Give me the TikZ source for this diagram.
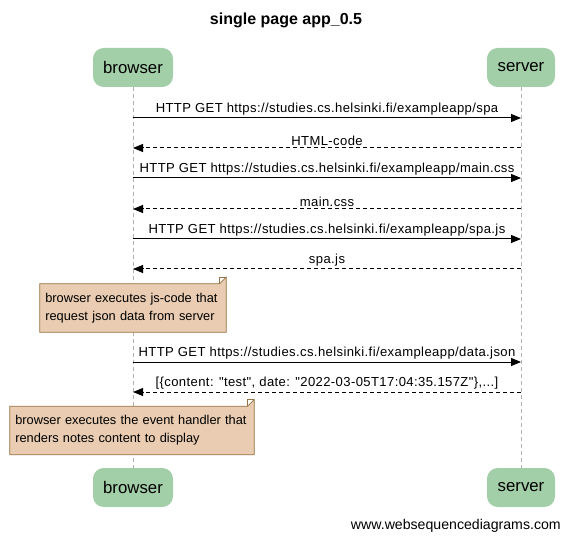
\documentclass[tikz,border=0pt]{standalone}
\usepackage{fontspec}
\setmainfont{Liberation Sans}[Ligatures=TeXOff]
\usetikzlibrary{arrows.meta}

\definecolor{actorgreen}{RGB}{163,207,168}
\definecolor{notefill}{RGB}{233,204,177}
\definecolor{notedraw}{RGB}{153,115,69}

\tikzset{
  actor/.style={fill=actorgreen, rounded corners=8pt, minimum width=#1, minimum height=29.25pt, font=\fontsize{12.6}{14}\selectfont, inner sep=0pt},
  life/.style={draw=gray!60, dash pattern=on 3pt off 2.25pt, line width=0.6pt},
  req/.style={line width=0.75pt, -{Triangle[length=7.5pt,width=6pt]}},
  resp/.style={line width=0.75pt, dash pattern=on 3pt off 2.25pt, -{Triangle[length=7.5pt,width=6pt]}},
  msg/.style={font=\fontsize{9.8}{11}\selectfont\addfontfeature{LetterSpace=3}, inner sep=1.5pt, above},
  notetext/.style={text width=#1, align=left, minimum height=36pt, inner xsep=4pt, inner ysep=0pt, font=\fontsize{9.6}{13.5}\selectfont},
  notebox/.style={fill=notefill, draw=notedraw, line width=0.6pt}
}

\begin{document}
\begin{tikzpicture}[x=0.75pt,y=0.75pt,yscale=-1,xscale=1]
\useasboundingbox (0,0) rectangle (570,541);

\node[font=\bfseries\fontsize{12}{14}\selectfont] (title) at (286,20) {single page app\_0.5};

% actors
\node[actor=60pt] (browsertop) at (133,67.5) {browser};
\node[actor=51pt] (servertop) at (521,67.5) {server};
\node[actor=60pt] (browserbot) at (133,487.5) {browser};
\node[actor=51pt] (serverbot) at (521,487.5) {server};

% lifelines
\draw[life] (browsertop) -- (browserbot);
\draw[life] (servertop) -- (serverbot);

% message ends
\coordinate (b1) at (133,118); \coordinate (s1) at (521,118);
\coordinate (b2) at (133,148); \coordinate (s2) at (521,148);
\coordinate (b3) at (133,178); \coordinate (s3) at (521,178);
\coordinate (b4) at (133,209); \coordinate (s4) at (521,209);
\coordinate (b5) at (133,239); \coordinate (s5) at (521,239);
\coordinate (b6) at (133,269); \coordinate (s6) at (521,269);
\coordinate (b7) at (133,362); \coordinate (s7) at (521,362);
\coordinate (b8) at (133,392); \coordinate (s8) at (521,392);

\draw[req] (b1) -- node[msg] {HTTP GET https://studies.cs.helsinki.fi/exampleapp/spa} (s1);
\draw[resp] (s2) -- node[msg] {HTML-code} (b2);
\draw[req] (b3) -- node[msg] {HTTP GET https://studies.cs.helsinki.fi/exampleapp/main.css} (s3);
\draw[resp] (s4) -- node[msg] {main.css} (b4);
\draw[req] (b5) -- node[msg] {HTTP GET https://studies.cs.helsinki.fi/exampleapp/spa.js} (s5);
\draw[resp] (s6) -- node[msg] {spa.js} (b6);

% note 1
\node[notetext=131.5pt] (note1) at (133,308) {browser executes js-code that\\request json data from server};
\draw[notebox] (note1.south west) -- (note1.north west) -- ([xshift=-5pt]note1.north east) -- ([yshift=-5pt]note1.north east) -- (note1.south east) -- cycle;
\draw[notebox, fill=none] ([xshift=-5pt]note1.north east) -- ([xshift=-5pt,yshift=-5pt]note1.north east) -- ([yshift=-5pt]note1.north east);
\node[notetext=131.5pt] at (note1) {browser executes js-code that\\request json data from server};

\draw[req] (b7) -- node[msg] {HTTP GET https://studies.cs.helsinki.fi/exampleapp/data.json} (s7);
\draw[resp] (s8) -- node[msg] {[\{content: "test", date: "2022-03-05T17:04:35.157Z"\},...]} (b8);

% note 2
\node[notetext=175pt] (note2) at (132,430.5) {browser executes the event handler that\\renders notes content to display};
\draw[notebox] (note2.south west) -- (note2.north west) -- ([xshift=-5pt]note2.north east) -- ([yshift=-5pt]note2.north east) -- (note2.south east) -- cycle;
\draw[notebox, fill=none] ([xshift=-5pt]note2.north east) -- ([xshift=-5pt,yshift=-5pt]note2.north east) -- ([yshift=-5pt]note2.north east);
\node[notetext=175pt] at (note2) {browser executes the event handler that\\renders notes content to display};

\node[anchor=east, font=\fontsize{10.6}{12}\selectfont, inner sep=0pt] (footer) at (561,526) {www.websequencediagrams.com};
\end{tikzpicture}
\end{document}
